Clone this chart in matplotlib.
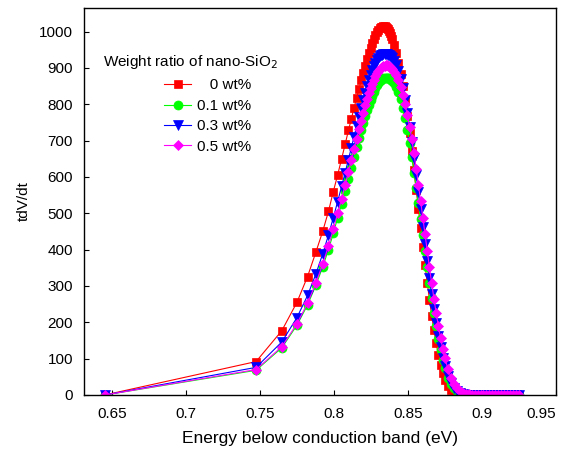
import matplotlib
matplotlib.use("Agg")
import matplotlib.pyplot as plt

plt.rcParams['font.family'] = ['Liberation Sans', 'DejaVu Sans']

# Energy grid (eV), shared by all four samples
energy = [0.645, 0.7473, 0.7647, 0.7749, 0.7821, 0.7877, 0.7923, 0.7962, 0.7995, 0.8024,
          0.8051, 0.8075, 0.8097, 0.8117, 0.8135, 0.8153, 0.8169, 0.8184, 0.8198, 0.8212,
          0.8225, 0.8237, 0.8248, 0.8259, 0.8270, 0.8280, 0.8290, 0.8299, 0.8308, 0.8317,
          0.8325, 0.8333, 0.8341, 0.8349, 0.8356, 0.8363, 0.8370, 0.8377, 0.8384, 0.8390,
          0.8405, 0.8420, 0.8435, 0.8450, 0.8465, 0.8480, 0.8495, 0.8510, 0.8525, 0.8540,
          0.8555, 0.8570, 0.8585, 0.8600, 0.8615, 0.8630, 0.8645, 0.8660, 0.8675, 0.8690,
          0.8705, 0.8720, 0.8735, 0.8750,
          0.877, 0.879, 0.881, 0.883, 0.885, 0.887, 0.889, 0.891, 0.893, 0.895, 0.897, 0.899,
          0.901, 0.903, 0.905, 0.907, 0.909, 0.911, 0.913, 0.915, 0.917, 0.919, 0.921, 0.923, 0.925]

tdv_0 = [0, 92, 177, 255, 326, 393, 450, 505, 560, 605,
         650, 690, 728, 760, 790, 818, 843, 866, 887, 906,
         925, 942, 956, 968, 980, 990, 998, 1004, 1009, 1012,
         1014, 1015, 1015, 1013, 1010, 1006, 1001, 995, 988, 981,
         962, 940, 914, 884, 849, 810, 767, 720, 671, 618,
         565, 512, 460, 408, 357, 308, 262, 218, 178, 142,
         110, 82, 60, 42,
         26, 15, 8, 4, 2, 0.8, 0.3, 0, 0, 0, 0, 0,
         0, 0, 0, 0, 0, 0, 0, 0, 0, 0, 0, 0, 0]

tdv_01 = [0, 68, 130, 192, 248, 302, 352, 400, 445, 487,
          526, 562, 595, 626, 655, 682, 706, 728, 748, 767,
          784, 799, 812, 824, 835, 844, 852, 858, 863, 867,
          870, 872, 873, 873, 873, 872, 871, 869, 867, 865,
          858, 848, 834, 815, 791, 763, 730, 694, 655, 612,
          570, 527, 483, 439, 395, 351, 308, 266, 227, 190,
          155, 124, 96, 73,
          48, 30, 18, 10, 5, 2.5, 1, 0.4, 0.1, 0, 0, 0,
          0, 0, 0, 0, 0, 0, 0, 0, 0, 0, 0, 0, 0]

tdv_03 = [0, 76, 146, 213, 274, 333, 388, 440, 488, 532,
          574, 612, 648, 681, 711, 740, 766, 790, 812, 832,
          851, 867, 881, 894, 905, 914, 922, 928, 932, 935,
          937, 938, 939, 939, 938, 937, 935, 933, 930, 927,
          920, 908, 892, 870, 845, 813, 777, 738, 696, 652,
          606, 559, 511, 463, 415, 368, 322, 278, 237, 198,
          163, 131, 103, 79,
          53, 34, 20, 11, 6, 3, 1.3, 0.5, 0.2, 0, 0, 0,
          0, 0, 0, 0, 0, 0, 0, 0, 0, 0, 0, 0, 0]

tdv_05 = [0, 70, 133, 196, 253, 308, 360, 410, 456, 500,
          540, 578, 613, 646, 676, 705, 731, 755, 777, 797,
          815, 831, 845, 857, 868, 877, 885, 891, 896, 900,
          903, 905, 906, 907, 907, 906, 905, 903, 900, 897,
          890, 880, 866, 848, 826, 800, 771, 738, 705, 665,
          623, 579, 534, 488, 442, 396, 351, 307, 265, 226,
          190, 157, 127, 101,
          71, 48, 31, 19, 11, 6, 3, 1.4, 0.6, 0.2, 0, 0,
          0, 0, 0, 0, 0, 0, 0, 0, 0, 0, 0, 0, 0]

labels = ['   0 wt%', '0.1 wt%', '0.3 wt%', '0.5 wt%']
series = [tdv_0, tdv_01, tdv_03, tdv_05]
colors = ['#ff0000', '#00ff00', '#0000ff', '#ff00ff']
markers = ['s', 'o', 'v', 'D']
msizes = [6, 6.5, 6.5, 5]

fig = plt.figure(figsize=(5.65, 4.5), dpi=100)
ax = fig.add_axes([84 / 565, 55 / 450, 472 / 565, 387 / 450])

for y, c, m, ms, lab in zip(series, colors, markers, msizes, labels):
    ax.plot(energy, y, color=c, marker=m, ms=ms, mec=c, mew=0.5, lw=0.8, label=lab)

ax.set_xlim(0.631, 0.95)
ax.set_ylim(0, 1065)
ax.set_xticks([0.65, 0.7, 0.75, 0.8, 0.85, 0.9, 0.95])
ax.set_xticklabels(['0.65', '0.7', '0.75', '0.8', '0.85', '0.9', '0.95'])
ax.get_xticklabels()[-1].set_horizontalalignment('right')
ax.set_yticks(range(0, 1001, 100))
ax.tick_params(direction='in', length=3.5, width=0.8, labelsize=11, pad=8)
ax.tick_params(axis='x', pad=9)
for s in ax.spines.values():
    s.set_linewidth(1.0)

ax.set_xlabel('Energy below conduction band (eV)', fontsize=12.5, labelpad=7)
ax.set_ylabel('tdV/dt', fontsize=11, labelpad=6)

ax.text(0.040, 0.860, 'Weight ratio of nano-SiO$_2$', transform=ax.transAxes,
        fontsize=11, va='center', ha='left')
ax.legend(loc='upper left', bbox_to_anchor=(0.169, 0.818), frameon=False,
          fontsize=11, handlelength=1.8, handletextpad=0.35, labelspacing=0.42,
          borderpad=0, borderaxespad=0)

fig.savefig('out.png', dpi=100)
